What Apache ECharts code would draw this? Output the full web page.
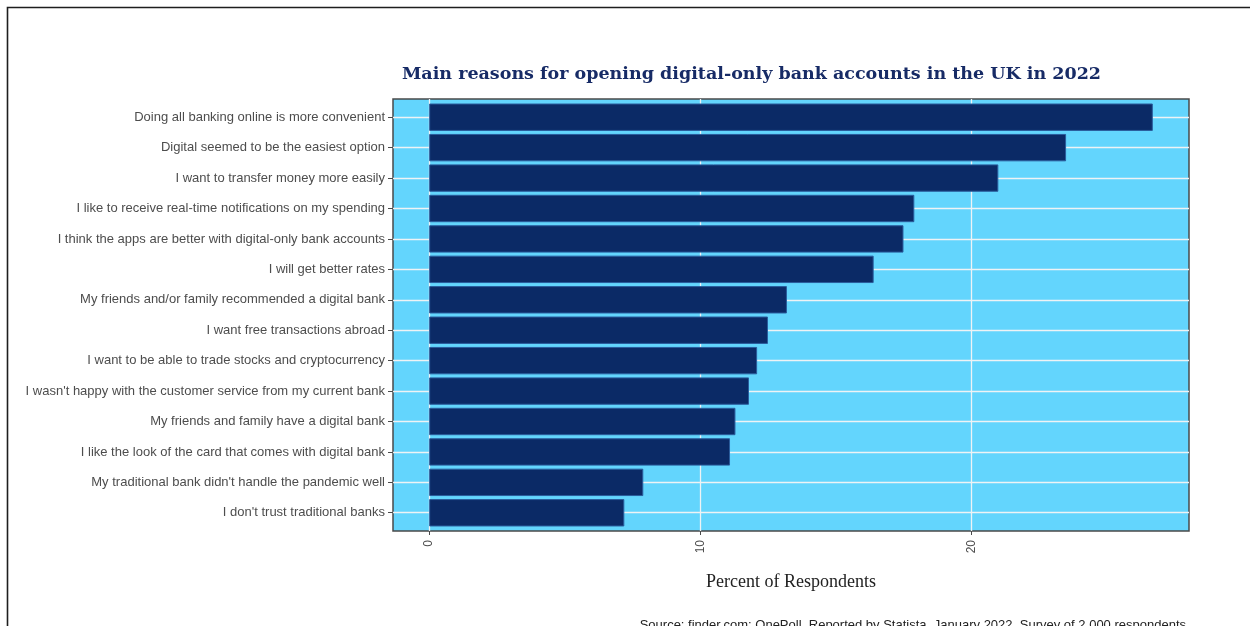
<!DOCTYPE html>
<html>
<head>
<meta charset="utf-8">
<script src="https://cdn.jsdelivr.net/npm/echarts@6/dist/echarts.min.js"></script>
<style>
  html, body { margin: 0; padding: 0; background: #ffffff; }
  #chart { width: 1250px; height: 626px; }
</style>
</head>
<body>
<div id="chart"></div>
<script>
// Reasons, top to bottom
const reasons = [
  "Doing all banking online is more convenient",
  "Digital seemed to be the easiest option",
  "I want to transfer money more easily",
  "I like to receive real-time notifications on my spending",
  "I think the apps are better with digital-only bank accounts",
  "I will get better rates",
  "My friends and/or family recommended a digital bank",
  "I want free transactions abroad",
  "I want to be able to trade stocks and cryptocurrency",
  "I wasn't happy with the customer service from my current bank",
  "My friends and family have a digital bank",
  "I like the look of the card that comes with digital bank",
  "My traditional bank didn't handle the pandemic well",
  "I don't trust traditional banks"
];
// Share of respondents, percent
const percents = [26.7, 23.5, 21.0, 17.9, 17.5, 16.4, 13.2, 12.5, 12.1, 11.8, 11.3, 11.1, 7.9, 7.2];
const xTicks = [0, 10, 20];

const titleText = "Main reasons for opening digital-only bank accounts in the UK in 2022";
const xTitle = "Percent of Respondents";
const sourceText = "Source: finder.com; OnePoll. Reported by Statista, January 2022. Survey of 2,000 respondents";

// Value range padded 5% on each side of [0, max]
const maxVal = Math.max(...percents);
const xMin = -0.05 * maxVal;
const xMax = 1.05 * maxVal;
// Row positions 1..n on the panel's own scale, padded by 0.6 rows
const rowIdx = reasons.map((_, i) => i + 1);

const sans = "'Liberation Sans', Arial, sans-serif";
const serif = "'Liberation Serif', 'Times New Roman', serif";
const titleSerif = "'DejaVu Serif', Georgia, serif";

const chart = echarts.init(document.getElementById('chart'), null, { renderer: 'canvas' });

chart.setOption({
  animation: false,
  backgroundColor: '#ffffff',
  title: {
    text: titleText,
    left: 402,
    top: 65,
    padding: 0,
    textStyle: { fontFamily: titleSerif, fontWeight: 'bold', fontSize: 17.5, color: '#172b66' }
  },
  grid: [
    // panel: background, border, gridlines
    { left: 393, right: 61, top: 99, bottom: 95, show: true,
      backgroundColor: '#63d5fd', borderColor: '#4a4a4a', borderWidth: 1.5 },
    // bars, inset by 0.1 row so that band centres sit on the row lines
    { left: 393, right: 61, top: 102, bottom: 98, show: false }
  ],
  xAxis: [
    { type: 'value', gridIndex: 0, min: xMin, max: xMax,
      axisLine: { show: false, onZero: false },
      axisTick: { show: true, length: 4, customValues: xTicks, lineStyle: { color: '#4a4a4a' } },
      axisLabel: { customValues: xTicks, rotate: 90, margin: 9, fontFamily: sans, fontSize: 12, color: '#4d4d4d' },
      splitLine: { show: true, lineStyle: { color: '#eef3f5', width: 1.3 } },
      name: xTitle, nameLocation: 'middle', nameGap: 42,
      nameTextStyle: { fontFamily: serif, fontSize: 18, color: '#222222' }
    },
    { type: 'value', gridIndex: 1, min: xMin, max: xMax, show: false,
      splitLine: { show: false } }
  ],
  yAxis: [
    { type: 'value', gridIndex: 0, min: 0.4, max: reasons.length + 0.6, inverse: true,
      axisLine: { show: false, onZero: false },
      axisTick: { show: true, length: 5, customValues: rowIdx, lineStyle: { color: '#4a4a4a' } },
      axisLabel: { show: false, customValues: rowIdx },
      splitLine: { show: true, lineStyle: { color: '#eef3f5', width: 1.3 } }
    },
    { type: 'category', gridIndex: 1, data: reasons, inverse: true,
      axisLine: { show: false, onZero: false }, axisTick: { show: false },
      axisLabel: { margin: 8, fontFamily: sans, fontSize: 13, color: '#4d4d4d' },
      splitLine: { show: false }
    }
  ],
  series: [{
    type: 'bar',
    xAxisIndex: 1,
    yAxisIndex: 1,
    data: percents,
    barCategoryGap: '10%',
    itemStyle: { color: '#0b2a66', borderColor: '#2a5c9c', borderWidth: 1 }
  }],
  graphic: [
    { type: 'rect', silent: true, shape: { x: 7.5, y: 7.5, width: 1400, height: 800 },
      style: { fill: null, stroke: '#1e1e1e', lineWidth: 1.6 } },
    { type: 'text', right: 64, top: 619,
      style: { text: sourceText, fontFamily: sans, fontSize: 13, fill: '#222222' } }
  ]
});
</script>
</body>
</html>
